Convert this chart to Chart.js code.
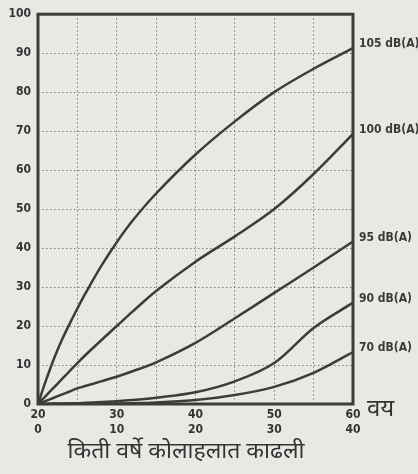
<!DOCTYPE html>
<html>
	<head>
		<meta charset="utf-8">
		<title>कोलाहल</title>
		<script src="https://cdn.jsdelivr.net/npm/chart.js"></script>
		<style>
			html, body { margin: 0; padding: 0; background: #e8e8e4; }
			#wrap { width: 418px; height: 474px; position: relative; }
		</style>
	</head>
	<body>
		<div id="wrap"><canvas id="noise" aria-label="कोलाहल" role="img"></canvas></div>
		<script type="text/javascript">
			// वय (years)
			let ages = [20, 21, 22, 23, 24, 25, 26, 28, 30, 32, 35, 40, 45, 50, 55, 60]
			let db105 = [0, 6, 11.5, 16.3, 20.5, 24.5, 28.3, 35.3, 41.5, 47, 54, 64, 72.5, 80, 86, 91.3]
			let db100 = [0, 2.1, 4.2, 6.3, 8.4, 10.5, 12.5, 16.3, 20, 23.7, 29, 36.5, 43, 50, 59, 69.3]
			let db95 = [0, 0.8, 1.6, 2.4, 3.2, 4, 4.6, 5.8, 7, 8.4, 10.7, 15.7, 22, 28.5, 35, 41.7]
			let db90 = [0, 0, 0.1, 0.1, 0.2, 0.2, 0.3, 0.5, 0.7, 1, 1.6, 3, 5.8, 10.5, 19.5, 26]
			let db70 = [0, 0, 0, 0, 0, 0, 0, 0.1, 0.1, 0.2, 0.4, 1, 2.3, 4.4, 8, 13.3]
			let names = ['105 dB(A)', '100 dB(A)', '95 dB(A)', '90 dB(A)', '70 dB(A)']
			let xTicks = [20, 30, 40, 50, 60]
			let xTicks2 = [0, 10, 20, 30, 40]
			let yTicks = [0, 10, 20, 30, 40, 50, 60, 70, 80, 90, 100]

			let tickFont = { family: '"Liberation Sans Narrow", "DejaVu Sans Condensed", sans-serif', size: 12, weight: 'bold' }
			let devaFont = '"Noto Sans Devanagari", "Noto Sans", "Lohit Devanagari", sans-serif'

			function pts(vals) {
				return ages.map((a, i) => ({ x: a, y: vals[i] }))
			}

			let frame = {
				id: 'frame',
				beforeDraw(chart) {
					let c = chart.ctx
					c.save()
					c.fillStyle = '#e8e8e4'
					c.fillRect(0, 0, chart.width, chart.height)
					c.restore()
				},
				afterDatasetsDraw(chart) {
					let c = chart.ctx, a = chart.chartArea
					c.save()
					c.strokeStyle = '#3c3c3a'
					c.lineWidth = 3
					c.strokeRect(a.left, a.top, a.right - a.left, a.bottom - a.top)
					// series labels on the right
					c.fillStyle = '#3a3a38'
					c.font = 'bold 12px "Liberation Sans Narrow", "DejaVu Sans Condensed", sans-serif'
					c.textBaseline = 'middle'
					c.textAlign = 'left'
					chart.data.datasets.forEach((ds, i) => {
						let meta = chart.getDatasetMeta(i)
						let p = meta.data[meta.data.length - 1]
						c.fillText(ds.label, a.right + 6, p.y - 4)
					})
					// axis word + title
					c.font = '24px ' + devaFont
					c.fillStyle = '#333'
					c.fillText('वय', a.right + 14, a.bottom + 8)
					c.font = '23px ' + devaFont
					c.textAlign = 'center'
					c.fillText('किती वर्षे कोलाहलात काढली', 186, 454)
					c.restore()
				}
			}

			let lineStyle = { borderColor: '#3c3c3a', borderWidth: 2.5, pointRadius: 0, fill: false, tension: 0.35 }
			let gridStyle = { color: '#7c7c78', lineWidth: 1, drawTicks: false }
			let dotted = { display: false, dash: [1.5, 2.5] }

			new Chart(document.getElementById('noise'), {
				type: 'line',
				data: {
					datasets: [
						{ label: names[0], data: pts(db105), ...lineStyle },
						{ label: names[1], data: pts(db100), ...lineStyle },
						{ label: names[2], data: pts(db95), ...lineStyle },
						{ label: names[3], data: pts(db90), ...lineStyle },
						{ label: names[4], data: pts(db70), ...lineStyle }
					]
				},
				options: {
					responsive: true,
					maintainAspectRatio: false,
					animation: false,
					layout: { padding: { top: 13, right: 65, left: 0, bottom: 0 } },
					plugins: { legend: { display: false }, tooltip: { enabled: false } },
					scales: {
						x: {
							type: 'linear', min: 20, max: 60,
							afterFit(s) { s.height = 70 },
							border: dotted,
							grid: gridStyle,
							ticks: {
								stepSize: 5, padding: 4, color: '#333', font: tickFont, maxRotation: 0, autoSkip: false,
								callback: v => { let i = xTicks.indexOf(v); return i < 0 ? '' : [String(xTicks[i]), String(xTicks2[i])] }
							}
						},
						y: {
							min: 0, max: 100,
							afterFit(s) { s.width = 38 },
							border: dotted,
							grid: gridStyle,
							ticks: { stepSize: 10, padding: 7, color: '#333', font: tickFont, callback: v => yTicks.includes(v) ? String(v) : '' }
						}
					}
				},
				plugins: [frame]
			})
		</script>
	</body>
</html>
